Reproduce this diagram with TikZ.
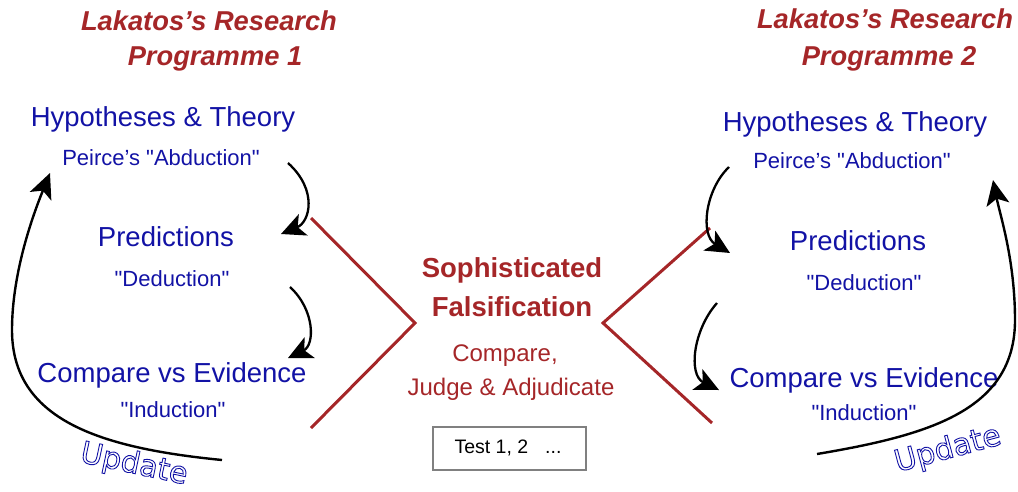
\documentclass[tikz,border=0pt]{standalone}
\usepackage{fontspec}
\setmainfont{Liberation Sans}[Ligatures=TeXOff]
\newfontfamily\updfont{DejaVu Sans}
\usetikzlibrary{arrows.meta}
\definecolor{tblue}{RGB}{18,18,165}
\definecolor{tred}{RGB}{165,38,40}
\definecolor{boxgray}{RGB}{128,128,128}
\tikzset{
  big/.style={font=\fontsize{27.5}{30}\selectfont, text=tblue, anchor=base, inner sep=0pt},
  small/.style={font=\fontsize{22}{26}\selectfont, text=tblue, anchor=base, inner sep=0pt},
  title/.style={font=\fontsize{27.3}{30}\selectfont\bfseries\itshape, text=tred, anchor=base, inner sep=0pt},
  ctitle/.style={font=\fontsize{27.5}{30}\selectfont\bfseries, text=tred, anchor=base, inner sep=0pt},
  csub/.style={font=\fontsize{24}{28}\selectfont, text=tred, anchor=base, inner sep=0pt},
  flow/.style={draw=black, line width=2.3pt, -{Stealth[length=24pt,width=23pt,inset=6pt]}},
  bigflow/.style={draw=black, line width=2.4pt, -{Stealth[length=25pt,width=23pt,inset=6pt]}},
  redline/.style={draw=tred, line width=3pt},
  testbox/.style={draw=boxgray, line width=1.3pt, fill=white},
  upd/.style={font=\fontsize{30}{34}\selectfont\updfont, text=tblue, inner sep=0pt}
}
\newcommand{\outl}[1]{\special{pdf:literal 1 Tr 0.9 w}#1\special{pdf:literal 0 Tr}}
\begin{document}
\begin{tikzpicture}[x=1pt,y=-1pt]
\useasboundingbox (0,0) rectangle (1018,491);
% titles
\node[title] (t1a) at (209,30) {Lakatos’s Research};
\node[title] (t1b) at (215,65) {Programme 1};
\node[title] (t2a) at (885,28) {Lakatos’s Research};
\node[title] (t2b) at (889,65) {Programme 2};
% left column
\node[big] (h1) at (163,126) {Hypotheses \& Theory};
\node[small] (a1) at (161,165) {Peirce’s "Abduction"};
\node[big] (p1) at (166,246) {Predictions};
\node[small] (d1) at (172,286) {"Deduction"};
\node[big] (c1) at (172,382) {Compare vs Evidence};
\node[small] (i1) at (173,417) {"Induction"};
% right column
\node[big] (h2) at (855,131) {Hypotheses \& Theory};
\node[small] (a2) at (852,168) {Peirce’s "Abduction"};
\node[big] (p2) at (858,250) {Predictions};
\node[small] (d2) at (864,290) {"Deduction"};
\node[big] (c2) at (864,387) {Compare vs Evidence};
\node[small] (i2) at (864,420) {"Induction"};
% centre
\node[ctitle] (s) at (512,277) {Sophisticated};
\node[ctitle] (f) at (512,316) {Falsification};
\node[csub] (cm) at (505,361) {Compare,};
\node[csub] (j) at (511,395) {Judge \& Adjudicate};
\draw[testbox] (433,427) rectangle (586,470);
\node[font=\fontsize{19.5}{22}\selectfont, anchor=base, inner sep=0pt] (test) at (508,453) {Test 1, 2\hspace{17pt}...};
% red brackets
\coordinate (rl1) at (311,218); \coordinate (rl2) at (415,323); \coordinate (rl3) at (311,428);
\coordinate (rr1) at (710,228); \coordinate (rr2) at (603,323); \coordinate (rr3) at (712,423);
\draw[redline] (rl1) -- (rl2) -- (rl3);
\draw[redline] (rr1) -- (rr2) -- (rr3);
% small flow arrows
\coordinate (la1s) at (288,163); \coordinate (la1e) at (281,234);
\coordinate (la2s) at (290,287); \coordinate (la2e) at (288,358);
\coordinate (ra1s) at (729,167); \coordinate (ra1e) at (730,253);
\coordinate (ra2s) at (717,303); \coordinate (ra2e) at (719,390);
\draw[flow] (la1s) .. controls (318,190) and (310,222) .. (la1e);
\draw[flow] (la2s) .. controls (315,310) and (315,345) .. (la2e);
\draw[flow] (ra1s) .. controls (705,190) and (700,235) .. (ra1e);
\draw[flow] (ra2s) .. controls (693,330) and (688,375) .. (ra2e);
% update arrows
\coordinate (lus) at (222,460); \coordinate (lum) at (12,330); \coordinate (lue) at (50,173);
\coordinate (rus) at (817,454); \coordinate (rum) at (1015,320); \coordinate (rue) at (993,180);
\draw[bigflow] (lus) .. controls (100,448) and (12,420) .. (lum) .. controls (12,270) and (35,210) .. (lue);
\draw[bigflow] (rus) .. controls (930,435) and (1015,410) .. (rum) .. controls (1015,260) and (1000,215) .. (rue);
\node[upd, rotate=-12] (u1) at (134,465) {\outl{Update}};
\node[upd, rotate=15] (u2) at (948,450) {\outl{Update}};
\end{tikzpicture}
\end{document}
